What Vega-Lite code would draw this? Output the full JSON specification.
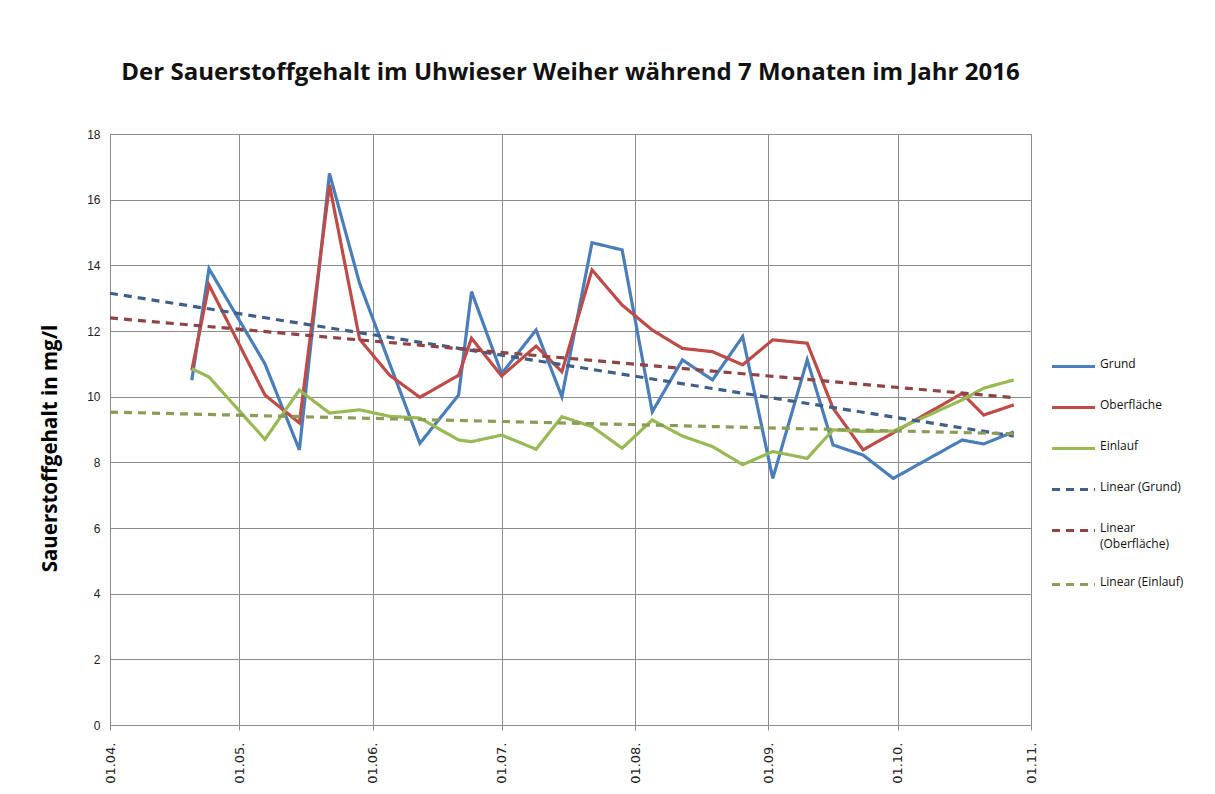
{
  "$schema": "https://vega.github.io/schema/vega-lite/v6.json",
  "width": 921,
  "height": 591,
  "autosize": {"type": "none"},
  "padding": {"left": 110, "top": 134, "right": 184, "bottom": 69},
  "background": "white",
  "title": {
    "text": "Der Sauerstoffgehalt im Uhwieser Weiher während 7 Monaten im Jahr 2016",
    "font": "Open Sans",
    "fontSize": 24,
    "fontWeight": "bold",
    "color": "#111111",
    "anchor": "middle",
    "offset": 43
  },
  "config": {
    "view": {"stroke": "#8C8C8C", "strokeWidth": 1},
    "axis": {"gridColor": "#8C8C8C", "gridOpacity": 1, "domainColor": "#8C8C8C", "tickColor": "#8C8C8C", "labelFont": "Liberation Sans", "labelFontSize": 12, "labelColor": "#222222"}
  },
  "data": {
    "values": [
      {"date": "2016/04/20", "series": "Grund", "value": 10.5},
      {"date": "2016/04/24", "series": "Grund", "value": 13.9},
      {"date": "2016/05/07", "series": "Grund", "value": 11.0},
      {"date": "2016/05/15", "series": "Grund", "value": 8.38},
      {"date": "2016/05/22", "series": "Grund", "value": 16.8},
      {"date": "2016/05/29", "series": "Grund", "value": 13.45},
      {"date": "2016/06/05", "series": "Grund", "value": 11.0},
      {"date": "2016/06/12", "series": "Grund", "value": 8.58},
      {"date": "2016/06/21", "series": "Grund", "value": 10.05},
      {"date": "2016/06/24", "series": "Grund", "value": 13.2},
      {"date": "2016/07/01", "series": "Grund", "value": 10.7},
      {"date": "2016/07/09", "series": "Grund", "value": 12.03},
      {"date": "2016/07/15", "series": "Grund", "value": 10.0},
      {"date": "2016/07/22", "series": "Grund", "value": 14.69},
      {"date": "2016/07/29", "series": "Grund", "value": 14.47},
      {"date": "2016/08/05", "series": "Grund", "value": 9.54},
      {"date": "2016/08/12", "series": "Grund", "value": 11.12},
      {"date": "2016/08/19", "series": "Grund", "value": 10.51},
      {"date": "2016/08/26", "series": "Grund", "value": 11.83},
      {"date": "2016/09/02", "series": "Grund", "value": 7.51},
      {"date": "2016/09/10", "series": "Grund", "value": 11.12},
      {"date": "2016/09/16", "series": "Grund", "value": 8.53},
      {"date": "2016/09/23", "series": "Grund", "value": 8.22},
      {"date": "2016/09/30", "series": "Grund", "value": 7.51},
      {"date": "2016/10/16", "series": "Grund", "value": 8.68},
      {"date": "2016/10/21", "series": "Grund", "value": 8.56},
      {"date": "2016/10/28", "series": "Grund", "value": 8.93},
      {"date": "2016/04/20", "series": "Oberfläche", "value": 10.8},
      {"date": "2016/04/24", "series": "Oberfläche", "value": 13.4},
      {"date": "2016/05/07", "series": "Oberfläche", "value": 10.05},
      {"date": "2016/05/15", "series": "Oberfläche", "value": 9.2},
      {"date": "2016/05/22", "series": "Oberfläche", "value": 16.45},
      {"date": "2016/05/29", "series": "Oberfläche", "value": 11.75},
      {"date": "2016/06/05", "series": "Oberfläche", "value": 10.65},
      {"date": "2016/06/12", "series": "Oberfläche", "value": 9.98},
      {"date": "2016/06/21", "series": "Oberfläche", "value": 10.65},
      {"date": "2016/06/24", "series": "Oberfläche", "value": 11.78},
      {"date": "2016/07/01", "series": "Oberfläche", "value": 10.63},
      {"date": "2016/07/09", "series": "Oberfläche", "value": 11.54},
      {"date": "2016/07/15", "series": "Oberfläche", "value": 10.76},
      {"date": "2016/07/22", "series": "Oberfläche", "value": 13.86},
      {"date": "2016/07/29", "series": "Oberfläche", "value": 12.79},
      {"date": "2016/08/05", "series": "Oberfläche", "value": 12.03},
      {"date": "2016/08/12", "series": "Oberfläche", "value": 11.47},
      {"date": "2016/08/19", "series": "Oberfläche", "value": 11.37},
      {"date": "2016/08/26", "series": "Oberfläche", "value": 10.97},
      {"date": "2016/09/02", "series": "Oberfläche", "value": 11.73},
      {"date": "2016/09/10", "series": "Oberfläche", "value": 11.63},
      {"date": "2016/09/16", "series": "Oberfläche", "value": 9.65},
      {"date": "2016/09/23", "series": "Oberfläche", "value": 8.38},
      {"date": "2016/09/30", "series": "Oberfläche", "value": 8.9},
      {"date": "2016/10/16", "series": "Oberfläche", "value": 10.1},
      {"date": "2016/10/21", "series": "Oberfläche", "value": 9.44},
      {"date": "2016/10/28", "series": "Oberfläche", "value": 9.75},
      {"date": "2016/04/20", "series": "Einlauf", "value": 10.85},
      {"date": "2016/04/24", "series": "Einlauf", "value": 10.6},
      {"date": "2016/05/07", "series": "Einlauf", "value": 8.7},
      {"date": "2016/05/15", "series": "Einlauf", "value": 10.2},
      {"date": "2016/05/22", "series": "Einlauf", "value": 9.5},
      {"date": "2016/05/29", "series": "Einlauf", "value": 9.6},
      {"date": "2016/06/05", "series": "Einlauf", "value": 9.4},
      {"date": "2016/06/12", "series": "Einlauf", "value": 9.35},
      {"date": "2016/06/21", "series": "Einlauf", "value": 8.68},
      {"date": "2016/06/24", "series": "Einlauf", "value": 8.63},
      {"date": "2016/07/01", "series": "Einlauf", "value": 8.83},
      {"date": "2016/07/09", "series": "Einlauf", "value": 8.4},
      {"date": "2016/07/15", "series": "Einlauf", "value": 9.39},
      {"date": "2016/07/22", "series": "Einlauf", "value": 9.09},
      {"date": "2016/07/29", "series": "Einlauf", "value": 8.43},
      {"date": "2016/08/05", "series": "Einlauf", "value": 9.29},
      {"date": "2016/08/12", "series": "Einlauf", "value": 8.8},
      {"date": "2016/08/19", "series": "Einlauf", "value": 8.48},
      {"date": "2016/08/26", "series": "Einlauf", "value": 7.93},
      {"date": "2016/09/02", "series": "Einlauf", "value": 8.33},
      {"date": "2016/09/10", "series": "Einlauf", "value": 8.12},
      {"date": "2016/09/16", "series": "Einlauf", "value": 8.99},
      {"date": "2016/09/23", "series": "Einlauf", "value": 8.94},
      {"date": "2016/09/30", "series": "Einlauf", "value": 8.95},
      {"date": "2016/10/16", "series": "Einlauf", "value": 9.9},
      {"date": "2016/10/21", "series": "Einlauf", "value": 10.26},
      {"date": "2016/10/28", "series": "Einlauf", "value": 10.51},
      {"date": "2016/04/01", "series": "Linear (Grund)", "value": 13.15},
      {"date": "2016/10/28", "series": "Linear (Grund)", "value": 8.8},
      {"date": "2016/04/01", "series": "Linear (Oberfläche)", "value": 12.4},
      {"date": "2016/10/28", "series": "Linear (Oberfläche)", "value": 9.97},
      {"date": "2016/04/01", "series": "Linear (Einlauf)", "value": 9.53},
      {"date": "2016/10/28", "series": "Linear (Einlauf)", "value": 8.87}
    ]
  },
  "mark": {"type": "line"},
  "encoding": {
    "x": {
      "field": "date",
      "type": "temporal",
      "scale": {"domain": [{"year": 2016, "month": 4, "date": 1}, {"year": 2016, "month": 11, "date": 1}]},
      "axis": {
        "title": null,
        "values": [
          {"year": 2016, "month": 4, "date": 1},
          {"year": 2016, "month": 5, "date": 1},
          {"year": 2016, "month": 6, "date": 1},
          {"year": 2016, "month": 7, "date": 1},
          {"year": 2016, "month": 8, "date": 1},
          {"year": 2016, "month": 9, "date": 1},
          {"year": 2016, "month": 10, "date": 1},
          {"year": 2016, "month": 11, "date": 1}
        ],
        "format": "%d.%m.",
        "labelAngle": -90,
        "labelFont": "DejaVu Sans",
        "labelFontSize": 13,
        "labelPadding": 12,
        "ticks": true,
        "tickSize": 5,
        "grid": true,
        "labelFlush": false,
        "labelOverlap": false
      }
    },
    "y": {
      "field": "value",
      "type": "quantitative",
      "scale": {"domain": [0, 18], "nice": false},
      "axis": {
        "values": [0, 2, 4, 6, 8, 10, 12, 14, 16, 18],
        "title": "Sauerstoffgehalt in mg/l",
        "titleFont": "Open Sans",
        "titleFontSize": 20.5,
        "titleFontWeight": "bold",
        "titleColor": "#000000",
        "titlePadding": 26,
        "titleY": 314,
        "ticks": false,
        "labelPadding": 10,
        "grid": true
      }
    },
    "color": {
      "field": "series",
      "type": "nominal",
      "scale": {
        "domain": ["Grund", "Oberfläche", "Einlauf", "Linear (Grund)", "Linear (Oberfläche)", "Linear (Einlauf)"],
        "range": ["#4A7EBB", "#BE4B48", "#98B954", "#3F5F88", "#8E4444", "#8A9C58"]
      },
      "legend": {
        "title": null,
        "orient": "none",
        "legendX": 940,
        "legendY": 209,
        "padding": 0,
        "symbolType": "stroke",
        "symbolSize": 1849,
        "symbolStrokeWidth": 3,
        "labelFont": "Open Sans",
        "labelFontSize": 12,
        "labelColor": "#111111",
        "labelOffset": 3,
        "rowPadding": 11,
        "labelLimit": 200,
        "labelExpr": "datum.label == 'Linear (Oberfläche)' ? ['Linear', '(Oberfläche)'] : datum.label",
        "encode": {
          "labels": {
            "update": {
              "baseline": {"value": "top"},
              "dy": {"value": -8},
              "lineHeight": {"value": 16}
            }
          }
        }
      }
    },
    "strokeDash": {
      "field": "series",
      "type": "nominal",
      "scale": {
        "domain": ["Grund", "Oberfläche", "Einlauf", "Linear (Grund)", "Linear (Oberfläche)", "Linear (Einlauf)"],
        "range": [[1, 0], [1, 0], [1, 0], [8, 6], [8, 6], [8, 6]]
      }
    },
    "strokeWidth": {
      "field": "series",
      "type": "ordinal",
      "scale": {
        "domain": ["Grund", "Oberfläche", "Einlauf", "Linear (Grund)", "Linear (Oberfläche)", "Linear (Einlauf)"],
        "range": [3.2, 3.2, 3.2, 2, 2, 2]
      }
    }
  }
}
